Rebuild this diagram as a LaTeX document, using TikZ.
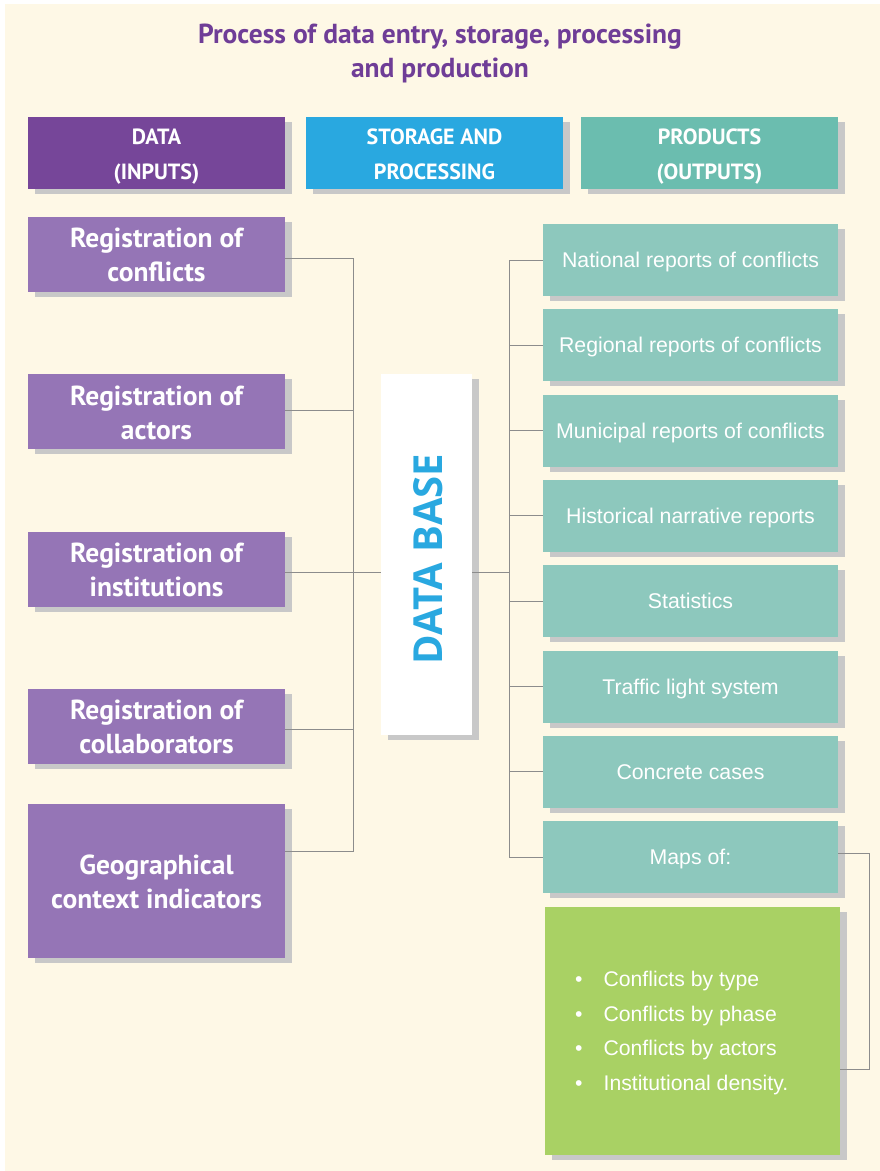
\documentclass[tikz,border=0pt]{standalone}
\usepackage{fontspec}
\setmainfont{Liberation Sans}
\newfontfamily\boldsans{PT Sans}
\newfontfamily\dbsans{Open Sans}
\usetikzlibrary{shadows}
\definecolor{cream}{HTML}{FEF8E6}
\definecolor{titlepurple}{HTML}{6F3D97}
\definecolor{datapurple}{HTML}{764699}
\definecolor{storeblue}{HTML}{29A8E0}
\definecolor{prodteal}{HTML}{6BBDAF}
\definecolor{inpurple}{HTML}{9575B6}
\definecolor{outteal}{HTML}{8DC8BD}
\definecolor{mapgreen}{HTML}{A9D164}
\definecolor{shadowgray}{HTML}{C8C8C8}
\definecolor{linegray}{HTML}{8C8C8C}
\begin{document}
\begin{tikzpicture}[x=1pt, y=-1pt,
  shade box/.style={general shadow={fill=shadowgray, shadow xshift=7pt, shadow yshift=-5pt}},
  head/.style={shade box, minimum width=257pt, minimum height=72pt, inner sep=0pt, align=center, text=white, text height=53.5pt, text depth=0pt, font=\boldsans\bfseries\fontsize{22}{35}\selectfont},
  inbox/.style={shade box, fill=inpurple, minimum width=257pt, minimum height=75pt, inner sep=0pt, align=center, text=white, text height=55.5pt, text depth=0pt, font=\boldsans\bfseries\fontsize{27.5}{34}\selectfont},
  outbox/.style={shade box, fill=outteal, minimum width=295pt, minimum height=72pt, inner sep=0pt, text=white, text height=15.3pt, text depth=0pt, font=\fontsize{21.3}{24}\selectfont},
  link/.style={draw=linegray, line width=1pt}]

\useasboundingbox (0, 0) rectangle (880, 1171);
\fill[cream] (5, 4) rectangle (880, 1171);

\draw (440, 53) node[align=center, text=titlepurple, font=\boldsans\bfseries\fontsize{27.5}{34}\selectfont] (title) {Process of data entry, storage, processing\\and production};

\draw (156.5, 153) node[head, fill=datapurple] (hdata) {DATA\\(INPUTS)};
\draw (434.5, 153) node[head, fill=storeblue] (hstore) {STORAGE AND\\PROCESSING};
\draw (709.5, 153) node[head, fill=prodteal] (hprod) {PRODUCTS\\(OUTPUTS)};

\draw (156.5, 254) node[inbox] (in1) {Registration of\\conflicts};
\draw (156.5, 411.5) node[inbox] (in2) {Registration of\\actors};
\draw (156.5, 569) node[inbox] (in3) {Registration of\\institutions};
\draw (156.5, 726) node[inbox] (in4) {Registration of\\collaborators};
\draw (156.5, 880.5) node[inbox, minimum height=154pt] (in5) {Geographical\\context indicators};

\draw (426.5, 554) node[shade box, fill=white, minimum width=91pt, minimum height=361pt, inner sep=0pt] (db) {};
\draw (428, 559) node[rotate=90, text=storeblue, font=\dbsans\bfseries\fontsize{40}{40}\selectfont] (dbtext) {DATA BASE};

\foreach \txt [count=\k] in {National reports of conflicts, Regional reports of conflicts, Municipal reports of conflicts, Historical narrative reports, Statistics, Traffic light system, Concrete cases, Maps of:}
  \draw (690.5, {174.7+85.3*\k}) node[outbox] (out\k) {\txt};

\draw (692.5, 1031) node[shade box, fill=mapgreen, minimum width=295pt, minimum height=248pt, inner sep=0pt] (maps) {};
\draw (575, 1033) node[anchor=west, align=left, inner sep=0pt, text=white, font=\fontsize{21.2}{34.7}\selectfont] (maplist) {\textbullet\hspace{21pt}Conflicts by type\\\textbullet\hspace{21pt}Conflicts by phase\\\textbullet\hspace{21pt}Conflicts by actors\\\textbullet\hspace{21pt}Institutional density.};

\coordinate (lb1) at (353, 258);
\coordinate (lb2) at (353, 410);
\coordinate (lb3) at (353, 572);
\coordinate (lb4) at (353, 729);
\coordinate (lb5) at (353, 851);
\coordinate (rb) at (509, 572);
\coordinate (mt) at (869, 853);
\coordinate (mbot) at (869, 1069);

\draw[link] (in1.east |- lb1) -- (lb1) -- (lb5) -- (in5.east |- lb5);
\draw[link] (in2.east |- lb2) -- (lb2);
\draw[link] (in3.east |- lb3) -- (lb3) -- (db.west |- lb3);
\draw[link] (in4.east |- lb4) -- (lb4);
\draw[link] (db.east |- rb) -- (rb);
\foreach \k in {1,...,8}
  \draw[link] (out\k.west) -| (rb);
\draw[link] (out8.east |- mt) -- (mt) -- (mbot) -- (maps.east |- mbot);
\end{tikzpicture}
\end{document}
